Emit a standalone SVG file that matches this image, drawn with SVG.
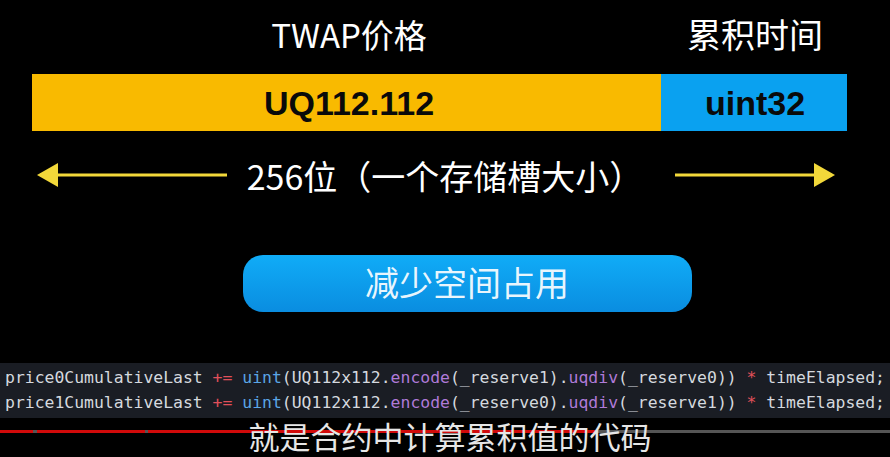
<svg xmlns="http://www.w3.org/2000/svg" width="890" height="457" viewBox="0 0 890 457">
<defs>
<style>
.t{font-family:"Noto Sans CJK SC","Liberation Sans",sans-serif;fill:#fff}
.b{font-family:"Liberation Sans","Noto Sans CJK SC",sans-serif;font-weight:bold;fill:#0a0a0a;font-size:34px}
.code{font-family:"DejaVu Sans Mono","Liberation Mono",monospace;font-size:16px;fill:#d5d9df}
.op{fill:#e0505a}.kw{fill:#5aa6e6}.fn{fill:#b07ad8}
.arr{stroke:#f2d83a;stroke-width:3;fill:none}
</style>
<linearGradient id="btn" x1="0" y1="0" x2="0" y2="1">
<stop offset="0" stop-color="#10acf7"/><stop offset="1" stop-color="#0a8de0"/>
</linearGradient>
<marker id="ah" markerWidth="8" markerHeight="8" refX="6" refY="4" orient="auto" markerUnits="strokeWidth">
<path d="M0,0 L7,4 L0,8 Z" fill="#f2d83a"/>
</marker>
</defs>
<rect width="890" height="457" fill="#000"/>
<g id="title-price"><text class="t" x="349" y="48" font-size="33" text-anchor="middle">TWAP价格</text></g>
<g id="title-time"><text class="t" x="755" y="48" font-size="34" text-anchor="middle">累积时间</text></g>
<g id="uq"><rect x="32" y="74" width="629" height="57" fill="#f9ba00"/><text class="b" x="349" y="115" text-anchor="middle">UQ112.112</text></g>
<g id="u32"><rect x="661" y="74" width="186" height="57" fill="#0aa1f0"/><text class="b" x="755" y="115" text-anchor="middle" font-size="33">uint32</text></g>
<g id="connectors">
<line class="arr" x1="227" y1="175" x2="40" y2="175" marker-end="url(#ah)"/>
<line class="arr" x1="675" y1="175" x2="832" y2="175" marker-end="url(#ah)"/>
</g>
<g id="size"><text class="t" x="445" y="190" font-size="34" text-anchor="middle">256位（一个存储槽大小）</text></g>
<g id="button"><rect x="243" y="255" width="449" height="57" rx="20" fill="url(#btn)"/><text class="t" x="467" y="296" font-size="34" text-anchor="middle" fill-opacity="0.92">减少空间占用</text></g>
<g id="code">
<rect x="0" y="363" width="890" height="55" fill="#1a1d24"/>
<text class="code" x="5" y="383" textLength="880" lengthAdjust="spacingAndGlyphs">price0CumulativeLast <tspan class="op">+=</tspan> <tspan class="kw">uint</tspan>(UQ112x112.<tspan class="fn">encode</tspan>(_reserve1).<tspan class="fn">uqdiv</tspan>(_reserve0)) <tspan class="op">*</tspan> timeElapsed;</text>
<text class="code" x="5" y="408" textLength="880" lengthAdjust="spacingAndGlyphs">price1CumulativeLast <tspan class="op">+=</tspan> <tspan class="kw">uint</tspan>(UQ112x112.<tspan class="fn">encode</tspan>(_reserve0).<tspan class="fn">uqdiv</tspan>(_reserve1)) <tspan class="op">*</tspan> timeElapsed;</text>
</g>
<g id="progress">
<rect x="0" y="430" width="890" height="3" fill="#555"/>
<rect x="0" y="430" width="33" height="3" fill="#d10a0a"/>
<rect x="37" y="430" width="108" height="3" fill="#d10a0a"/>
<rect x="148" y="430" width="447" height="3" fill="#d10a0a"/>
</g>
<g id="subtitle"><text x="450" y="449" font-size="31" text-anchor="middle" font-family="Noto Sans CJK SC,sans-serif" fill="#e6e6e6">就是合约中计算累积值的代码</text></g>
</svg>
